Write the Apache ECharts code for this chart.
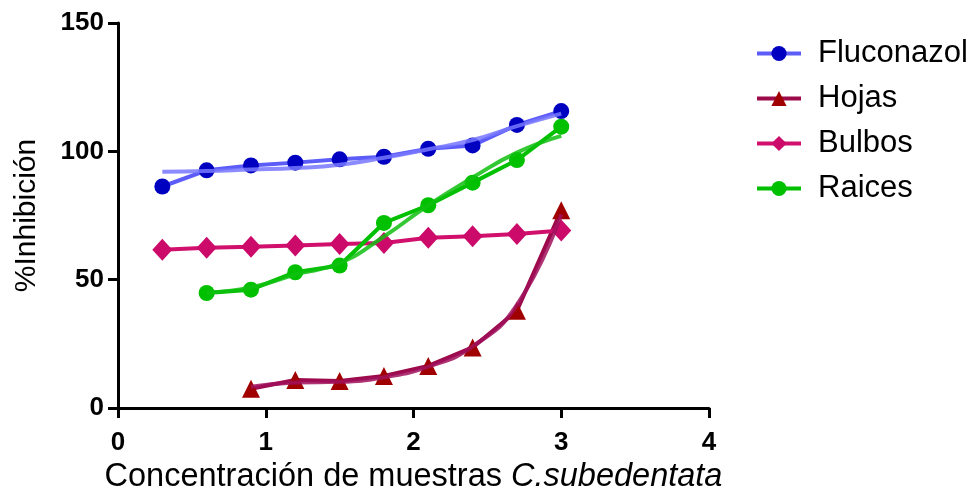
<!DOCTYPE html>
<html><head><meta charset="utf-8">
<script src="https://cdn.jsdelivr.net/npm/echarts@6/dist/echarts.min.js"></script>
<style>html,body{margin:0;padding:0;background:#fff}#c{width:976px;height:495px}</style>
</head><body><div id="c"></div>
<script>
const xs = [0.3, 0.6, 0.9, 1.2, 1.5, 1.8, 2.1, 2.4, 2.7, 3.0];
const fluconazol = [86.3, 92.6, 94.5, 95.6, 96.9, 97.9, 101.0, 102.3, 110.3, 115.7];
const fluconazolFit = [92.0, 92.3, 92.9, 93.5, 94.8, 97.5, 100.8, 104.4, 109.8, 114.7];
const hojasX = [0.9, 1.2, 1.5, 1.8, 2.1, 2.4, 2.7, 3.0];
const hojas = [7.5, 10.9, 10.5, 12.5, 16.4, 23.6, 37.9, 77.0];
const hojasFit = [8.3, 9.9, 10.2, 12.0, 16.1, 24.0, 40.2, 75.4];
const bulbos = [61.7, 62.4, 62.8, 63.3, 63.9, 64.3, 66.3, 66.9, 67.8, 69.2];
const raicesX = [0.6, 0.9, 1.2, 1.5, 1.8, 2.1, 2.4, 2.7, 3.0];
const raices = [44.8, 46.1, 52.9, 55.5, 72.1, 79.0, 87.8, 96.6, 109.6];
const raicesFit = [45.0, 47.0, 52.0, 56.5, 66.8, 79.0, 89.8, 99.5, 106.0];

const pairs = (x, y) => x.map((v, i) => [v, y[i]]);
const font = 'Liberation Sans, Arial, sans-serif';

function dataSeries(name, x, y, lineColor, markColor, symbol, size) {
  return { name, type: 'line', data: pairs(x, y), symbol, symbolSize: size,
    lineStyle: { color: lineColor, width: 4 }, itemStyle: { color: markColor },
    z: 3 };
}
function fitSeries(name, x, y, color) {
  return { name: name + ' fit', type: 'line', data: pairs(x, y), symbol: 'none', smooth: 0.5,
    lineStyle: { color, width: 4, opacity: 0.85 }, z: 4, silent: true };
}

const chart = echarts.init(document.getElementById('c'));
chart.setOption({
  animation: false,
  grid: { left: 118, right: 267, top: 23, bottom: 87, containLabel: false, outerBoundsMode: 'none' },
  legend: {
    data: ['Fluconazol', 'Hojas', 'Bulbos', 'Raices'],
    orient: 'vertical', left: 750, top: 31, itemWidth: 44, itemHeight: 19, itemGap: 10,
    lineStyle: { width: 4 },
    textStyle: { fontFamily: font, fontSize: 31, color: '#000', padding: [0, 0, 0, 12], lineHeight: 35 }
  },
  xAxis: {
    type: 'value', min: 0, max: 4, interval: 1,
    axisLine: { lineStyle: { color: '#000', width: 3 } },
    axisTick: { length: 10, lineStyle: { color: '#000', width: 3 } },
    axisLabel: { fontFamily: font, fontSize: 26, fontWeight: 'bold', color: '#000', margin: 22 },
    splitLine: { show: false },
    name: '{a|Concentración de muestras }{b|C.subedentata}',
    nameLocation: 'middle', nameGap: 51,
    nameTextStyle: { rich: {
      a: { fontFamily: font, fontSize: 32.5, color: '#000' },
      b: { fontFamily: font, fontSize: 32.5, color: '#000', fontStyle: 'italic' } } }
  },
  yAxis: {
    type: 'value', min: 0, max: 150, interval: 50,
    axisLine: { show: true, lineStyle: { color: '#000', width: 3 } },
    axisTick: { show: true, length: 10, lineStyle: { color: '#000', width: 3 } },
    axisLabel: { fontFamily: font, fontSize: 26, fontWeight: 'bold', color: '#000', margin: 14 },
    splitLine: { show: false },
    name: '%Inhibición', nameLocation: 'middle', nameGap: 76, nameRotate: 90,
    nameTextStyle: { fontFamily: font, fontSize: 30, color: '#000' }
  },
  series: [
    dataSeries('Fluconazol', xs, fluconazol, '#5c5cf8', '#0000c0', 'circle', 16),
    fitSeries('Fluconazol', xs, fluconazolFit, '#7777ff'),
    dataSeries('Hojas', hojasX, hojas, '#9c0a4a', '#a00000', 'triangle', 18),
    fitSeries('Hojas', hojasX, hojasFit, '#a0105c'),
    dataSeries('Bulbos', xs, bulbos, '#d0106c', '#cc0a6a', 'diamond', [20, 22]),
    dataSeries('Raices', raicesX, raices, '#00c000', '#00c000', 'circle', 16),
    fitSeries('Raices', raicesX, raicesFit, '#10c010')
  ]
});
</script></body></html>
